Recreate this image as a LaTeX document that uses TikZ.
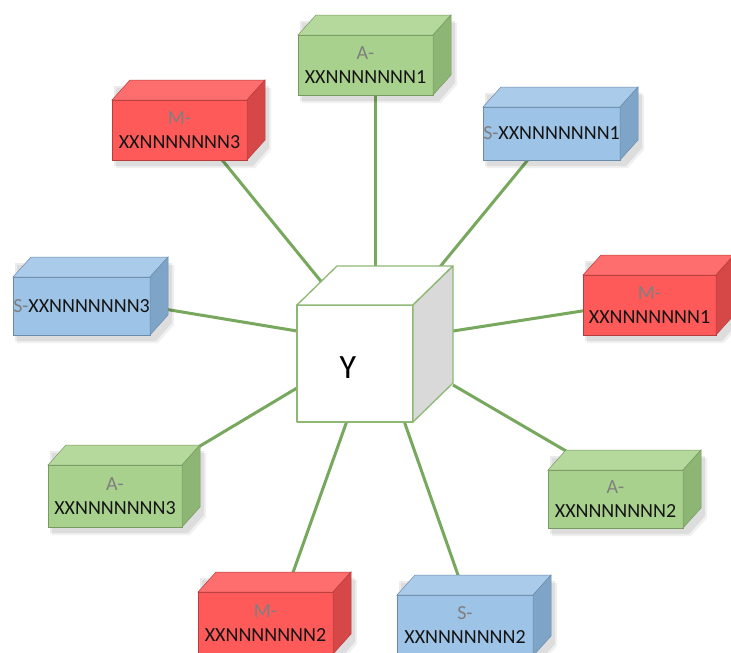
\documentclass[tikz,border=0pt]{standalone}
\usepackage{fontspec}
\setmainfont{Carlito}
\usetikzlibrary{calc}
\definecolor{gF}{HTML}{A9D18E}\definecolor{gT}{HTML}{B5D89C}\definecolor{gS}{HTML}{8DB573}
\definecolor{rF}{HTML}{FF5A5A}\definecolor{rT}{HTML}{FF6E6E}\definecolor{rS}{HTML}{D64848}
\definecolor{bF}{HTML}{9DC3E6}\definecolor{bT}{HTML}{ABCBEA}\definecolor{bS}{HTML}{7EA4C8}
\definecolor{connc}{HTML}{77A85D}
\definecolor{cubeedge}{HTML}{8DB874}
\definecolor{lbl}{HTML}{7F7F7F}
\definecolor{txt}{HTML}{141414}
\tikzset{
  frontbox/.style={inner sep=0pt, outer sep=0pt, align=center, text=txt,
    font=\fontsize{20}{24}\selectfont, draw=#1S!85!black, line width=.5pt, fill=#1F},
  facebox/.style={line width=.5pt, draw=#1S!85!black},
  conn/.style={draw=connc, line width=3pt},
  cubeface/.style={draw=cubeedge, line width=1.3pt, line join=round},
}
% name, x1, y1, x2, y2, colour prefix, text
\newcommand\cuboid[7]{%
  \fill[black,opacity=.08] (#2+2,#3-14) -- (#4+22,#3-14) -- (#4+22,#5-12) -- (#4+6,#5+6) -- (#2+2,#5+6) -- cycle;
  \fill[black,opacity=.06] (#2+4,#3-12) -- (#4+24,#3-12) -- (#4+24,#5-10) -- (#4+8,#5+8) -- (#2+4,#5+8) -- cycle;
  \node[frontbox=#6, minimum width={#4-#2}, minimum height={#5-#3}]
     (#1) at ({(#2+#4)/2},{(#3+#5)/2}) {#7};
  \filldraw[facebox=#6, fill=#6T] (#1.north west) -- ++(18,-20) -- ($(#1.north east)+(18,-20)$) -- (#1.north east) -- cycle;
  \filldraw[facebox=#6, fill=#6S] (#1.north east) -- ++(18,-20) -- ($(#1.south east)+(18,-20)$) -- (#1.south east) -- cycle;
}
\begin{document}
\begin{tikzpicture}[x=1pt,y=-1pt]
\useasboundingbox (0,0) rectangle (731,653);
\clip (0,0) rectangle (731,653);
\fill[white] (0,0) rectangle (731,653);

% end points on the central cube
\coordinate (cA1) at (375,266);
\coordinate (cM3) at (324,285);
\coordinate (cS1) at (425,285);
\coordinate (cS3) at (297,331);
\coordinate (cM1) at (453,331);
\coordinate (cA3) at (297,388);
\coordinate (cA2) at (453,385);
\coordinate (cM2) at (348,418);
\coordinate (cS2) at (403,418);
% start points hidden behind the boxes
\coordinate (pA1) at (375,80);
\coordinate (pM3) at (214,150);
\coordinate (pS1) at (536,150);
\coordinate (pS3) at (140,305);
\coordinate (pM1) at (595,309);
\coordinate (pA3) at (180,458);
\coordinate (pA2) at (590,465);
\coordinate (pM2) at (285,595);
\coordinate (pS2) at (465,595);

\foreach \n in {A1,M3,S1,S3,M1,A3,A2,M2,S2}{\draw[conn] (p\n) -- (c\n);}

% boxes
\cuboid{A1}{298}{35}{433}{95}{g}{{\color{lbl}A-}\\XXNNNNNNN1}
\cuboid{M3}{112}{100}{247}{160}{r}{{\color{lbl}M-}\\XXNNNNNNN3}
\cuboid{S1}{483}{107}{620}{160}{b}{{\color{lbl}S-}XXNNNNNNN1}
\cuboid{S3}{13}{277}{150}{335}{b}{{\color{lbl}S-}XXNNNNNNN3}
\cuboid{M1}{583}{275}{716}{335}{r}{{\color{lbl}M-}\\XXNNNNNNN1}
\cuboid{A3}{48}{465}{182}{527}{g}{{\color{lbl}A-}\\XXNNNNNNN3}
\cuboid{A2}{548}{470}{683}{528}{g}{{\color{lbl}A-}\\XXNNNNNNN2}
\cuboid{M2}{198}{592}{333}{654}{r}{{\color{lbl}M-}\\XXNNNNNNN2}
\cuboid{S2}{397}{595}{533}{656}{b}{{\color{lbl}S-}\\XXNNNNNNN2}

% central cube
\node[cubeface, fill=white, inner sep=0pt, outer sep=0pt, minimum width=116, minimum height=117] (Y) at (355,363.5) {};
\filldraw[cubeface, fill=white] (Y.north west) -- ++(40,-39) -- ($(Y.north east)+(40,-39)$) -- (Y.north east) -- cycle;
\filldraw[cubeface, fill=black!15] (Y.north east) -- ++(40,-39) -- ($(Y.south east)+(40,-39)$) -- (Y.south east) -- cycle;
\node[font=\fontsize{34}{34}\selectfont, text=black] (ylab) at (348,368) {Y};
\end{tikzpicture}
\end{document}
